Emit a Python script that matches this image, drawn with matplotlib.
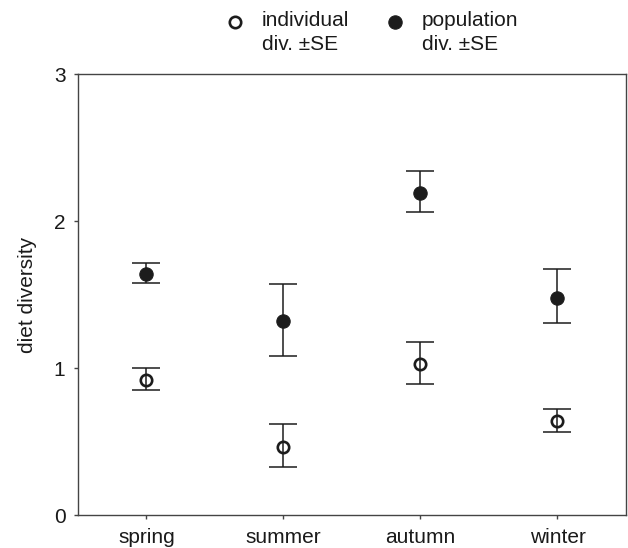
import numpy as np
import matplotlib.pyplot as plt
from matplotlib.lines import Line2D

plt.rcParams['font.family'] = ['Liberation Sans', 'DejaVu Sans']

seasons = ['spring', 'summer', 'autumn', 'winter']

# individual diversity: mean, lower and upper end of the SE bar
indiv_mean = [0.92, 0.46, 1.03, 0.64]
indiv_low = [0.85, 0.33, 0.89, 0.565]
indiv_high = [1.00, 0.62, 1.18, 0.72]

# population diversity
pop_mean = [1.64, 1.32, 2.19, 1.48]
pop_low = [1.58, 1.085, 2.065, 1.31]
pop_high = [1.715, 1.57, 2.34, 1.675]

yticks = [0, 1, 2, 3]

x = np.arange(len(seasons))
dark = '#1c1c1c'

fig = plt.figure(figsize=(6.28, 5.48), dpi=100)
ax = fig.add_axes([0.1242, 0.0602, 0.8726, 0.804])


def draw(mean, low, high, filled):
    mean = np.array(mean)
    err = [mean - np.array(low), np.array(high) - mean]
    ax.errorbar(x, mean, yerr=err, fmt='none', ecolor=dark, elinewidth=1.1,
                capsize=10, capthick=1.1, zorder=2)
    if filled:
        ax.plot(x, mean, 'o', ms=9.6, mfc=dark, mec=dark, mew=0.8,
                ls='none', zorder=3)
    else:
        ax.plot(x, mean, 'o', ms=8.2, mfc='none', mec=dark, mew=1.9,
                ls='none', zorder=3)


draw(indiv_mean, indiv_low, indiv_high, False)
draw(pop_mean, pop_low, pop_high, True)

ax.set_xlim(-0.5, len(seasons) - 0.5)
ax.set_ylim(0, 3)
ax.set_xticks(x)
ax.set_xticklabels(seasons)
ax.set_yticks(yticks)
ax.tick_params(axis='both', direction='out', length=3, width=1,
               color='#444444', labelsize=15, labelcolor='#1a1a1a', pad=6)
ax.set_ylabel('diet diversity', fontsize=15, color='#1a1a1a', labelpad=12)
for s in ax.spines.values():
    s.set_color('#444444')
    s.set_linewidth(1)

# legend above the plot
fig.add_artist(Line2D([235 / 628], [1 - 22 / 548], marker='o', ms=8.2,
                      mfc='none', mec=dark, mew=1.9, ls='none'))
fig.add_artist(Line2D([395 / 628], [1 - 22 / 548], marker='o', ms=9.6,
                      mfc=dark, mec=dark, mew=0.8, ls='none'))
fig.text(262 / 628, 1 - 11 / 548, 'individual\ndiv. \u00b1SE', fontsize=15,
         color='#1a1a1a', va='top', ha='left', linespacing=1.3)
fig.text(422 / 628, 1 - 11 / 548, 'population\ndiv. \u00b1SE', fontsize=15,
         color='#1a1a1a', va='top', ha='left', linespacing=1.3)

fig.savefig('out.png', dpi=100)
